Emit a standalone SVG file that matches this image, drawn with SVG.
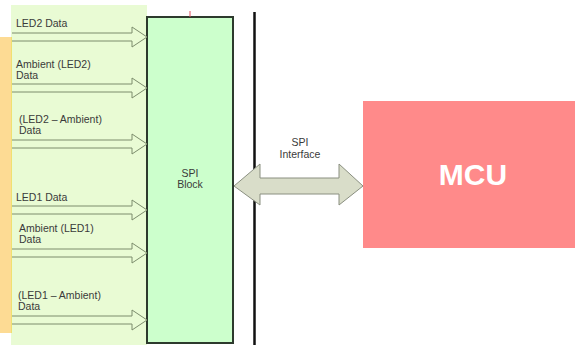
<svg xmlns="http://www.w3.org/2000/svg" width="575" height="345" viewBox="0 0 575 345">
<style>
.lbl{font-family:"Liberation Sans",Arial,sans-serif;font-size:10.5px;fill:#3a3a3a}
.in{fill:#e9fbd4;stroke:#7c8c6c;stroke-width:1}
</style>
<defs>
<path id="inArrow" d="M0,-4 L120,-4 L120,-10 L135,0 L120,10 L120,4 L0,4"/>
</defs>
<rect width="575" height="345" fill="#ffffff"/>
<g id="background">
<rect x="11" y="5" width="136" height="340" fill="#e9fbd4"/>
<rect x="0" y="37" width="12" height="296" fill="#fddb94"/>
<line x1="11.5" y1="37" x2="11.5" y2="333" stroke="#f0e070" stroke-width="1"/>
</g>
<g id="spi-block">
<rect x="147" y="17" width="86" height="326" fill="#ccffcc" stroke="#2d3a2d" stroke-width="2"/>
<line x1="190" y1="11" x2="190" y2="17" stroke="#e05060" stroke-width="1"/>
<text class="lbl" x="190" y="177" text-anchor="middle">SPI</text>
<text class="lbl" x="190" y="188" text-anchor="middle">Block</text>
</g>
<g id="bus-line">
<line x1="254.5" y1="12" x2="254.5" y2="345" stroke="#111" stroke-width="2.5"/>
</g>
<g id="mcu">
<rect x="363" y="101" width="212" height="147" fill="#ff8a8a"/>
<text x="473" y="185" text-anchor="middle" font-family="Liberation Sans,Arial,sans-serif" font-size="30" font-weight="bold" fill="#ffffff">MCU</text>
</g>
<g id="connectors">
<use href="#inArrow" class="in" x="12" y="37"/>
<use href="#inArrow" class="in" x="12" y="88"/>
<use href="#inArrow" class="in" x="12" y="144"/>
<use href="#inArrow" class="in" x="12" y="210"/>
<use href="#inArrow" class="in" x="12" y="253"/>
<use href="#inArrow" class="in" x="12" y="320"/>
<path d="M234,186 L260,164 L260,178 L339,178 L339,164 L363,186 L339,205 L339,194 L260,194 L260,205 Z" fill="#d9ddc9" stroke="#8a8f80" stroke-width="1"/>
<text class="lbl" x="300" y="146" text-anchor="middle" font-size="9">SPI</text>
<text class="lbl" x="300" y="158" text-anchor="middle" font-size="9">Interface</text>
</g>
<g id="labels">
<text class="lbl" x="16" y="27">LED2 Data</text>
<text class="lbl" x="16" y="68">Ambient (LED2)</text>
<text class="lbl" x="16" y="79">Data</text>
<text class="lbl" x="19" y="123">(LED2 – Ambient)</text>
<text class="lbl" x="19" y="134">Data</text>
<text class="lbl" x="16" y="201">LED1 Data</text>
<text class="lbl" x="19" y="232">Ambient (LED1)</text>
<text class="lbl" x="19" y="243">Data</text>
<text class="lbl" x="18" y="299">(LED1 – Ambient)</text>
<text class="lbl" x="18" y="310">Data</text>
</g>
</svg>
